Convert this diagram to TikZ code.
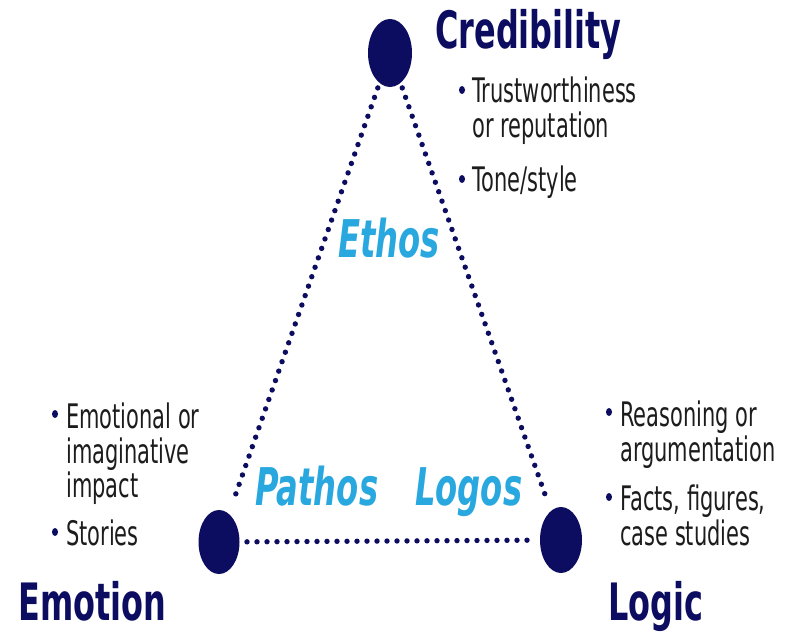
\documentclass[tikz,border=0pt]{standalone}
\usepackage{fontspec}
\setmainfont{DejaVu Sans}[FakeStretch=0.62]
\usetikzlibrary{shapes.geometric}
\definecolor{navy}{RGB}{12,12,96}
\definecolor{cyanlbl}{RGB}{41,168,224}
\definecolor{bodytxt}{RGB}{28,28,28}
\tikzset{
  vertex/.style={ellipse, fill=navy, inner sep=0pt},
  dotline/.style={navy, line width=5.4pt, line cap=round, dash pattern=on 0pt off 10pt},
  title/.style={anchor=base west, inner sep=0pt, text=navy, font=\fontsize{51.5}{52}\selectfont\bfseries},
  greek/.style={anchor=base west, inner sep=0pt, text=cyanlbl, font=\fontsize{52}{52}\selectfont\bfseries\itshape},
  bodyline/.style={anchor=base west, inner sep=0pt, text=bodytxt, font=\fontsize{33.8}{35}\selectfont},
  bulletdot/.style={ellipse, fill=navy, inner sep=0pt, minimum width=6pt, minimum height=8pt}
}
\begin{document}
\begin{tikzpicture}[x=1pt,y=-1pt]
\useasboundingbox[fill=white] (0,0) rectangle (786,632);
% vertices
\node[vertex, minimum width=44pt, minimum height=68pt] (top) at (390,53) {};
\node[vertex, minimum width=41pt, minimum height=64pt] (bl) at (219,542) {};
\node[vertex, minimum width=42pt, minimum height=66pt] (br) at (561,540) {};
% dotted edges
\draw[dotline, shorten <=37pt, shorten >=42pt] (top.center) -- (bl.center);
\draw[dotline, shorten <=37pt, shorten >=42pt] (top.center) -- (br.center);
\draw[dotline, shorten <=28pt, shorten >=27pt] (bl.center) -- (br.center);
% titles
\node[title] (cred) at (435,48) {Credibility};
\node[title] (emo) at (18,620) {Emotion};
\node[title] (logic) at (608,620) {Logic};
% greek labels
\node[greek] (ethos) at (338,257) {Ethos};
\node[greek] (pathos) at (255,505) {Pathos};
\node[greek] (logos) at (415,505) {Logos};
% credibility bullets
\node[bulletdot] (b1) at (462,90) {};
\node[bodyline] (t1a) at (472,102) {Trustworthiness};
\node[bodyline] (t1b) at (472,137) {or reputation};
\node[bulletdot] (b2) at (462,179) {};
\node[bodyline] (t2a) at (472,191) {Tone/style};
% emotion bullets
\node[bulletdot] (b3) at (55,414) {};
\node[bodyline] (e1a) at (66,428) {Emotional or};
\node[bodyline] (e1b) at (66,463) {imaginative};
\node[bodyline] (e1c) at (66,497) {impact};
\node[bulletdot] (b4) at (55,532) {};
\node[bodyline] (e2a) at (66,545) {Stories};
% logic bullets
\node[bulletdot] (b5) at (609,412) {};
\node[bodyline] (l1a) at (620,426) {Reasoning or};
\node[bodyline] (l1b) at (620,461) {argumentation};
\node[bulletdot] (b6) at (609,497) {};
\node[bodyline] (l2a) at (620,510) {Facts, figures,};
\node[bodyline] (l2b) at (620,545) {case studies};
\end{tikzpicture}
\end{document}
